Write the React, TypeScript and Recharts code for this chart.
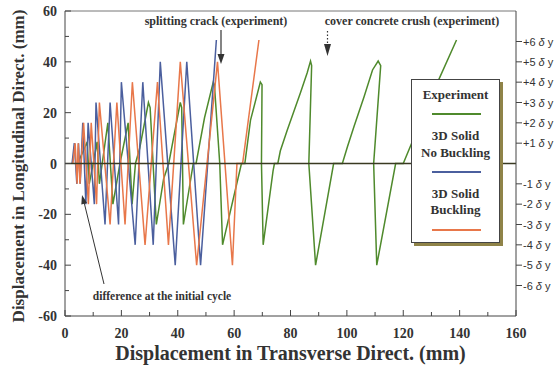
import { LineChart, Line, XAxis, YAxis, ReferenceLine } from "recharts"

// Experiment (green)
const experimentX = [4.5, 7.9, 8.6, 10, 11.4, 12.2, 13.2, 15.2, 17, 19.5, 22.4, 23.8, 25, 26.5, 29.6, 30.2, 32.4, 35, 36.8, 38.5, 40.9, 41.4, 42, 45.5, 46.5, 49.5, 52.6, 53, 54.9, 55.9, 62.6, 63.8, 65.8, 69.3, 69.9, 69.7, 70.3, 73.8, 74.3, 75.5, 76.4, 78.8, 83.5, 85.9, 87.1, 87.5, 86.5, 88.9, 95.3, 98.4, 100.2, 102.5, 106.1, 109.1, 111.1, 112, 109.5, 110.6, 117.3, 120, 126, 132.6, 138.9]
const experimentY = [0, 8.5, -8, 0, 8.5, -8, 0, 16, -16, 0, 16, -16, 0, 6, 24, 22, -24, -6, 0, 10, 24, 22, -24, 0, 0, 18, 32, 31, 0, -32, 0, 0, 17, 32, 31, 0, -32, -3, 0, 0, 5, 13, 27.7, 35.6, 40.3, 38.5, 0, -40, 0, 0, 6.6, 14.5, 26.3, 36.8, 40.3, 38.5, 0, -40, 0, 0, 16, 33, 48.6]

// 3D Solid, no buckling (blue)
const noBucklingX = [2.5, 3.3, 4.2, 4.8, 5.4, 6.3, 7.4, 8.2, 10.4, 11, 14.2, 16, 19, 20, 24.9, 27.6, 31.3, 33.8, 39.1, 43.2, 48.1, 53.7]
const noBucklingY = [0, 8, -8, 8, -8, 16, -16, 16, -16, 24, -24, 24, -24, 32, -32, 32, -32, 40, -40, 40, -40, 48.6]

// 3D Solid, buckling (orange)
const bucklingX = [2.8, 3.6, 4.3, 4.7, 5.3, 6.6, 8.3, 9.3, 11.2, 12.2, 16, 18.4, 21.3, 23.9, 28.4, 32.8, 36.7, 40.9, 46.7, 54.1, 59.4, 61, 63, 68.8]
const bucklingY = [0, 8, -8, 8, -8, 16, -16, 16, -16, 24, -24, 24, -24, 32, -32, 32, -32, 40, -40, 40, -40, 0, 0, 48.6]

const xTicks = [0, 10, 20, 30, 40, 50, 60, 70, 80, 90, 100, 110, 120, 130, 140, 150, 160]
const yTicks = [-60, -50, -40, -30, -20, -10, 0, 10, 20, 30, 40, 50, 60]
const deltaLevels = [-6, -5, -4, -3, -2, -1, 1, 2, 3, 4, 5, 6]
const deltaY = 8 // mm per yield displacement

const GREEN = "#4f8a2c"
const BLUE = "#4b5f9e"
const ORANGE = "#e8774a"
const AXIS = "#444"
const SERIF = "'Liberation Serif', 'Times New Roman', serif"

const PLOT_L = 65
const PLOT_R = 516
const PLOT_B = 316

const toPoints = (xs: number[], ys: number[]) => xs.map((x, i) => ({ x, y: ys[i] }))

const experiment = toPoints(experimentX, experimentY)
const noBuckling = toPoints(noBucklingX, noBucklingY)
const buckling = toPoints(bucklingX, bucklingY)
const deltaTicks = deltaLevels.map((d) => d * deltaY)

function XTick(props: any) {
  const { x, payload } = props
  const v = payload.value
  const major = v % 20 === 0
  return (
    <g>
      <line x1={x} x2={x} y1={PLOT_B} y2={PLOT_B - (major ? 6 : 4)} stroke={AXIS} />
      {major && (
        <text x={x} y={338} textAnchor="middle" fontFamily={SERIF} fontWeight="bold" fontSize={14} fill="#333">
          {v}
        </text>
      )}
    </g>
  )
}

function LeftTick(props: any) {
  const { y, payload } = props
  const v = payload.value
  const major = v % 20 === 0
  return (
    <g>
      <line x1={PLOT_L} x2={PLOT_L + (major ? 6 : 4)} y1={y} y2={y} stroke={AXIS} />
      {major && (
        <text x={57} y={y + 5} textAnchor="end" fontFamily={SERIF} fontWeight="bold" fontSize={14} fill="#333">
          {v}
        </text>
      )}
    </g>
  )
}

function RightTick(props: any) {
  const { y, payload } = props
  const level = payload.value / deltaY
  return (
    <g>
      <line x1={PLOT_R} x2={PLOT_R + 6} y1={y} y2={y} stroke={AXIS} />
      <text x={PLOT_R + 7} y={y + 4} fontFamily="'Liberation Sans', Arial, sans-serif" fontSize={11} fill="#333">
        {level > 0 ? `+${level} ` : `${level} `}
        <tspan fontStyle="italic">δ</tspan> y
      </text>
    </g>
  )
}

const legendText: React.CSSProperties = {
  position: "absolute",
  left: 0,
  width: "100%",
  textAlign: "center",
  fontFamily: SERIF,
  fontWeight: "bold",
  fontSize: 13,
  lineHeight: "16px",
  color: "#333",
}

function LegendRow({ top, label }: { top: number; label: string }) {
  return <div style={{ ...legendText, top: top - 8 }}>{label}</div>
}

function LegendLine({ top, color }: { top: number; color: string }) {
  return <div style={{ position: "absolute", left: 20, width: 49, top, height: 2, background: color }} />
}

export default function App() {
  return (
    <div style={{ position: "absolute", left: 0, top: 0, width: 557, height: 365, background: "#fff" }}>
      <LineChart width={557} height={365} margin={{ top: 11, right: 0, bottom: 0, left: 0 }}>
        <XAxis
          type="number"
          dataKey="x"
          domain={[0, 160]}
          ticks={xTicks}
          interval={0}
          height={49}
          tickLine={false}
          axisLine={{ stroke: AXIS }}
          tick={(p: any) => <XTick {...p} />}
          allowDataOverflow
        />
        <YAxis
          yAxisId="left"
          type="number"
          domain={[-60, 60]}
          ticks={yTicks}
          interval={0}
          width={65}
          tickLine={false}
          axisLine={{ stroke: AXIS }}
          tick={(p: any) => <LeftTick {...p} />}
          allowDataOverflow
        />
        <YAxis
          yAxisId="right"
          orientation="right"
          type="number"
          domain={[-60, 60]}
          ticks={deltaTicks}
          interval={0}
          width={41}
          tickLine={false}
          axisLine={{ stroke: AXIS }}
          tick={(p: any) => <RightTick {...p} />}
          allowDataOverflow
        />
        <ReferenceLine yAxisId="left" y={60} stroke="#777" />
        <Line yAxisId="left" data={experiment} dataKey="y" type="linear" stroke={GREEN} strokeWidth={1.5} dot={false} isAnimationActive={false} />
        <Line yAxisId="left" data={noBuckling} dataKey="y" type="linear" stroke={BLUE} strokeWidth={1.5} dot={false} isAnimationActive={false} />
        <Line yAxisId="left" data={buckling} dataKey="y" type="linear" stroke={ORANGE} strokeWidth={1.5} dot={false} isAnimationActive={false} />
        <ReferenceLine yAxisId="left" y={0} stroke="#3a3a22" strokeWidth={1.6} />
      </LineChart>

      <svg width={557} height={365} style={{ position: "absolute", left: 0, top: 0, pointerEvents: "none" }}>
        <text
          transform="translate(24,166) rotate(-90)"
          textAnchor="middle"
          fontFamily={SERIF}
          fontWeight="bold"
          fontSize={17}
          fill="#333"
        >
          Displacement in Longitudinal Direct. (mm)
        </text>
        <text x={290.5} y={360} textAnchor="middle" fontFamily={SERIF} fontWeight="bold" fontSize={20} fill="#333">
          Displacement in Transverse Direct. (mm)
        </text>

        <text x={216} y={25} textAnchor="middle" fontFamily={SERIF} fontWeight="bold" fontSize={12} fill="#333">
          splitting crack (experiment)
        </text>
        <line x1={221} x2={221} y1={30} y2={56} stroke="#333" strokeWidth={1.2} />
        <polygon points="217.5,54 224.5,54 221,64" fill="#333" />

        <text x={412} y={25} textAnchor="middle" fontFamily={SERIF} fontWeight="bold" fontSize={12} fill="#333">
          cover concrete crush (experiment)
        </text>
        <line x1={327.5} x2={327.5} y1={31} y2={44} stroke="#333" strokeWidth={1.2} strokeDasharray="1.5 2" />
        <polygon points="324,44 331,44 327.5,56" fill="#333" />

        <text x={162} y={300} textAnchor="middle" fontFamily={SERIF} fontWeight="bold" fontSize={11.5} fill="#333">
          difference at the initial cycle
        </text>
        <line x1={104} y1={284} x2={84} y2={202} stroke="#333" strokeWidth={1} />
        <polygon points="82,195 87.1,203 81.3,204.4" fill="#333" />
      </svg>

      <div
        style={{
          position: "absolute",
          left: 411,
          top: 79,
          width: 89,
          height: 164,
          boxSizing: "border-box",
          border: "1px solid #444",
          background: "#fff",
          boxShadow: "3px 3px 0 #8f8348",
        }}
      >
        <LegendRow top={15} label="Experiment" />
        <LegendLine top={33} color={GREEN} />
        <LegendRow top={56} label="3D Solid" />
        <LegendRow top={73} label="No Buckling" />
        <LegendLine top={91} color={BLUE} />
        <LegendRow top={114} label="3D Solid" />
        <LegendRow top={130} label="Buckling" />
        <LegendLine top={149} color={ORANGE} />
      </div>
    </div>
  )
}
